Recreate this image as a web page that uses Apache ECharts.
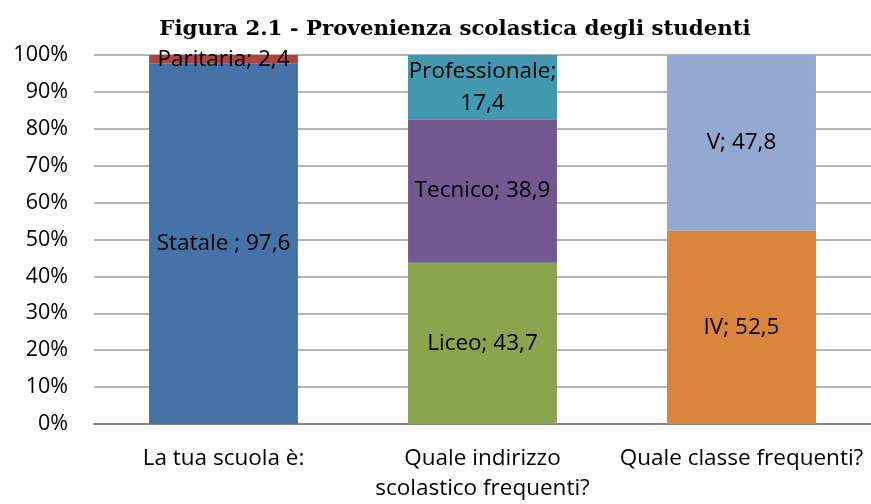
<!DOCTYPE html>
<html>
<head>
<meta charset="utf-8">
<script src="https://cdn.jsdelivr.net/npm/echarts@6/dist/echarts.min.js"></script>
<style>html,body{margin:0;padding:0;background:#fff}#chart{width:871px;height:504px}</style>
</head>
<body>
<div id="chart"></div>
<script>
// ---- data ----
const titleText = 'Figura 2.1 - Provenienza scolastica degli studenti';
const categories = ['La tua scuola è:', 'Quale indirizzo\nscolastico frequenti?', 'Quale classe frequenti?'];
const seriesNames = ['Statale ', 'Paritaria', 'Liceo', 'Tecnico', 'Professionale', 'IV', 'V'];
const statale       = [97.6, null, null];
const paritaria     = [2.4,  null, null];
const liceo         = [null, 43.7, null];
const tecnico       = [null, 38.9, null];
const professionale = [null, 17.4, null];
const quarta        = [null, null, 52.5];
const quinta        = [null, null, 47.8];
const yTicks = [0, 10, 20, 30, 40, 50, 60, 70, 80, 90, 100];

const seriesValues = [statale, paritaria, liceo, tecnico, professionale, quarta, quinta];
const colors = ['#4572A7', '#AA4643', '#89A54E', '#71588F', '#4198AF', '#DB843D', '#93A9CF'];

// 100% stacked: totals per category
const totals = categories.map((_, i) => seriesValues.reduce((s, arr) => s + (arr[i] || 0), 0));

const FONT = 'Open Sans';
const chart = echarts.init(document.getElementById('chart'), null, {renderer: 'canvas'});

const series = seriesNames.map((name, k) => ({
  name: name,
  type: 'bar',
  stack: 'total',
  barCategoryGap: '42.5%',
  itemStyle: {color: colors[k]},
  label: {
    show: true,
    position: 'inside',
    color: '#000',
    fontFamily: FONT,
    fontSize: 22.5,
    lineHeight: 32,
    formatter: p => {
      const raw = seriesValues[k][p.dataIndex];
      const sep = name === 'Professionale' ? ';\n' : '; ';
      return name + sep + String(raw).replace('.', ',');
    }
  },
  data: seriesValues[k].map((v, i) => v == null ? null : v / totals[i] * 100)
}));

chart.setOption({
  animation: false,
  title: {
    text: titleText,
    left: 450,
    textAlign: 'center',
    top: 14,
    textStyle: {fontFamily: 'DejaVu Serif', fontWeight: 'bold', fontSize: 21.3, color: '#000'}
  },
  grid: {left: 94, right: 0, top: 55, bottom: 78, containLabel: false},
  xAxis: {
    type: 'category',
    data: categories,
    axisLine: {lineStyle: {color: '#868686', width: 2}},
    axisTick: {show: false},
    axisLabel: {interval: 0, color: '#000', fontFamily: FONT, fontSize: 22.5, lineHeight: 30, margin: 20}
  },
  yAxis: {
    type: 'value',
    min: yTicks[0],
    max: yTicks[yTicks.length - 1],
    interval: yTicks[1] - yTicks[0],
    axisLine: {show: false},
    axisTick: {show: false},
    splitLine: {lineStyle: {color: '#b4b4b4', width: 2}},
    axisLabel: {color: '#000', fontFamily: FONT, fontSize: 21.5, margin: 26, formatter: '{value}%'}
  },
  series: series
});
</script>
</body>
</html>
